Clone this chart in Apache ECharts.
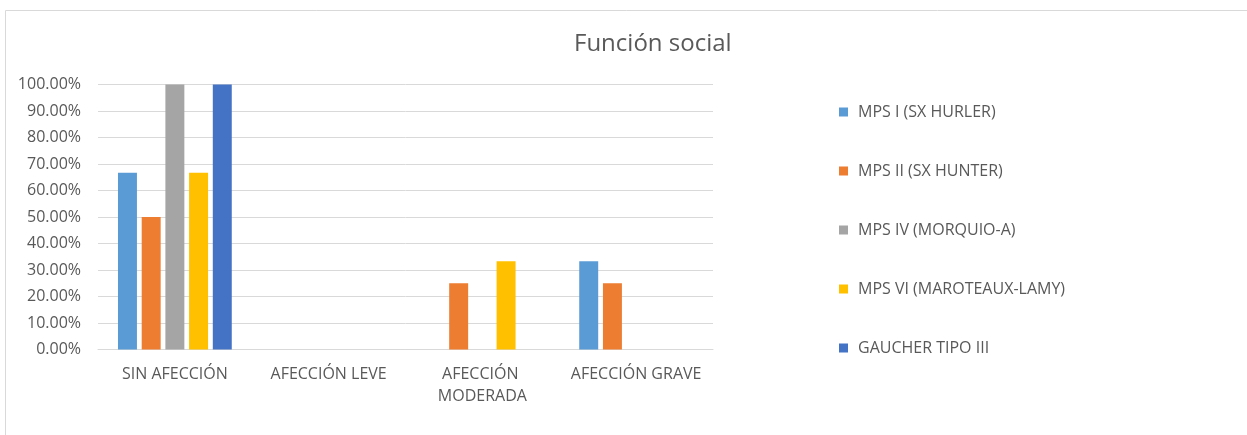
<!DOCTYPE html>
<html>
<head>
<meta charset="utf-8">
<style>
  html, body { margin: 0; padding: 0; background: #ffffff; }
  #chart { width: 1247px; height: 435px; }
</style>
<script src="https://cdn.jsdelivr.net/npm/echarts@6/dist/echarts.min.js"></script>
</head>
<body>
<div id="chart"></div>
<script>
// Categories on the x axis
const categories = ['SIN AFECCIÓN', 'AFECCIÓN LEVE', 'AFECCIÓN MODERADA', 'AFECCIÓN GRAVE'];

// Share of patients per category (percent)
const mpsI = [66.67, 0, 0, 33.33];
const mpsII = [50, 0, 25, 25];
const mpsIV = [100, 0, 0, 0];
const mpsVI = [66.67, 0, 33.33, 0];
const gaucherIII = [100, 0, 0, 0];

const seriesNames = ['MPS I (SX HURLER)', 'MPS II (SX HUNTER)', 'MPS IV (MORQUIO-A)', 'MPS VI (MAROTEAUX-LAMY)', 'GAUCHER TIPO III'];
const seriesData = [mpsI, mpsII, mpsIV, mpsVI, gaucherIII];
const colors = ['#5B9BD5', '#ED7D31', '#A5A5A5', '#FFC000', '#4472C4'];

const FONT = '"Open Sans", "Noto Sans", sans-serif';
const TEXT = '#595959';

const chart = echarts.init(document.getElementById('chart'), null, { renderer: 'canvas' });

chart.setOption({
  animation: false,
  backgroundColor: '#ffffff',
  color: colors,
  title: {
    text: 'Función social',
    left: 569,
    top: 27,
    textStyle: { fontFamily: FONT, fontSize: 24, fontWeight: 'normal', color: TEXT }
  },
  graphic: [{
    type: 'rect',
    shape: { x: 5.5, y: 10.5, width: 1250, height: 440 },
    style: { fill: 'none', stroke: '#d9d9d9', lineWidth: 1 },
    silent: true,
    z: -1
  }],
  legend: {
    orient: 'vertical',
    left: 834,
    top: 98,
    itemWidth: 9,
    itemHeight: 9,
    itemGap: 41,
    icon: 'rect',
    textStyle: { fontFamily: FONT, fontSize: 16, color: TEXT, lineHeight: 18, padding: [0, 0, 0, 5] },
    data: seriesNames
  },
  grid: { left: 98, right: 534, top: 84.5, bottom: 85.5, containLabel: false },
  xAxis: {
    type: 'category',
    data: categories,
    axisLine: { show: true, lineStyle: { color: '#d9d9d9', width: 1 } },
    axisTick: { show: false },
    axisLabel: {
      fontFamily: FONT, fontSize: 16, color: TEXT,
      margin: 14, lineHeight: 22,
      width: 150, overflow: 'break', interval: 0
    }
  },
  yAxis: {
    type: 'value',
    min: 0, max: 100, interval: 10,
    axisLine: { show: false },
    axisTick: { show: false },
    splitLine: { lineStyle: { color: '#d9d9d9', width: 1 } },
    axisLabel: {
      fontFamily: FONT, fontSize: 16, color: TEXT, margin: 17,
      formatter: v => v.toFixed(2) + '%'
    }
  },
  series: seriesNames.map((name, i) => ({
    name,
    type: 'bar',
    data: seriesData[i],
    barGap: '25%',
    barCategoryGap: '26%',
    itemStyle: { color: colors[i] }
  }))
});
</script>
</body>
</html>
